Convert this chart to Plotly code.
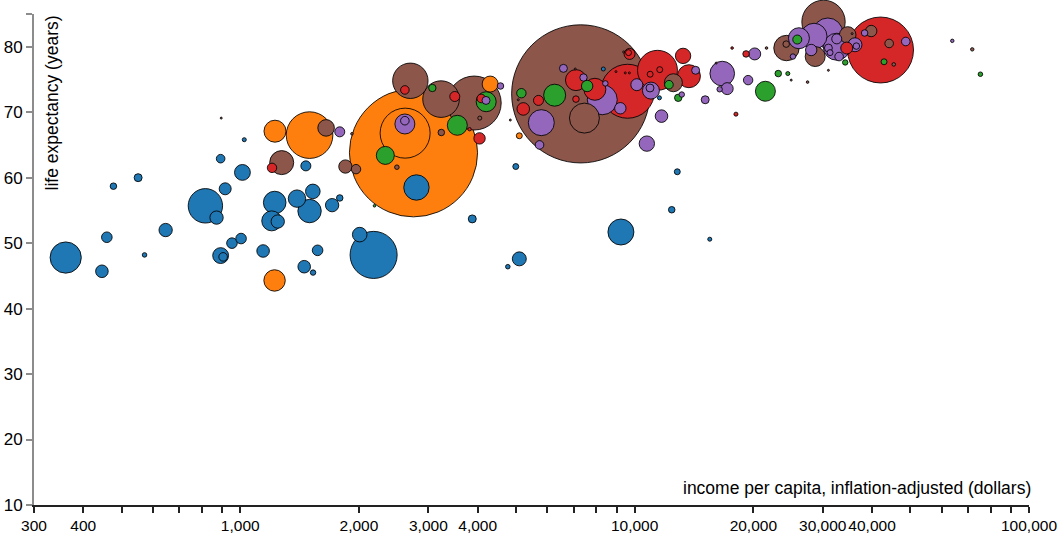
import math
import plotly.graph_objects as go

# ---------------- data (income $, life expectancy years, population millions) ----------------
africa_income = [361, 446, 459, 477, 551, 572, 647, 816, 871, 892, 905, 953, 1005, 916, 892, 1013, 1024,
                 1143, 1223, 1202, 1245, 1393, 1467, 1528, 1499, 1710, 1788, 1571, 1453, 1530, 2009, 2179,
                 2798, 3876, 4997, 5101, 4770, 9232, 12830, 12420, 15510, 8330, 11560]
africa_life = [47.8, 45.7, 50.9, 58.7, 60.0, 48.2, 52.0, 55.7, 53.9, 48.1, 47.9, 50.0, 50.7, 58.3, 62.9, 60.8, 65.8,
               48.8, 56.2, 53.4, 53.3, 56.8, 61.8, 57.9, 54.9, 55.8, 56.9, 48.9, 46.4, 45.5, 51.3, 48.2,
               58.5, 53.7, 61.7, 47.6, 46.4, 51.7, 60.9, 55.1, 50.6, 76.6, 72.2]
africa_pop = [66, 10.7, 7.6, 2.9, 4.3, 1.4, 12, 80, 12, 17, 5, 7.6, 7.6, 9.7, 5, 17, 1.1,
              10.7, 34.5, 27, 12, 20.5, 6.8, 14.4, 37, 12, 2.9, 7.6, 10.7, 2.0, 14.4, 150,
              43.6, 4.3, 2.4, 13.2, 1.4, 45.7, 2.4, 2.9, 1.1, 1.1, 1.1]

south_asia_income = [2750, 2619, 1499, 1225, 1222, 4303, 5101]
south_asia_life = [63.8, 66.8, 66.5, 67.1, 44.3, 74.3, 66.4]
south_asia_pop = [1110, 169, 147, 32.7, 31, 17.3, 2.4]

mena_income = [2333, 3552, 3070, 4204, 5163, 6270, 7580, 12220, 12900, 21460, 23130, 24460, 25850,
               34200, 42900, 75300, 2190]
mena_life = [63.4, 68.0, 73.7, 71.6, 72.9, 72.6, 74.0, 74.2, 72.2, 73.2, 75.9, 75.9, 81.1,
             77.6, 77.7, 75.8, 55.7]
mena_pop = [21.9, 27, 3.7, 27, 6, 32.7, 8.8, 5, 3.7, 27, 2.9, 1.1, 5.5,
            2.0, 2.4, 1.4, 0.46]

america_income = [42030, 9600, 11430, 13270, 13730, 7100, 7930, 7100, 10950, 11580, 9710, 9650, 5220,
                  5705, 3500, 2615, 4085, 4044, 3815, 1204, 18070, 19170, 17670, 34500, 9470, 8970, 9700]
america_life = [79.5, 73.2, 76.4, 78.6, 75.5, 74.9, 73.5, 72.0, 75.8, 76.5, 78.9, 79.1, 70.5,
                71.8, 72.4, 73.4, 72.1, 66.0, 67.4, 61.5, 69.7, 78.9, 79.8, 79.8, 76.0, 76.2, 76.0]
america_pop = [294, 197, 108, 16, 35.8, 29.8, 32.7, 2.9, 2.4, 2.4, 8.2, 2.4, 10.7,
               6.8, 6.8, 5, 5, 8.8, 0.78, 6, 1.1, 2.9, 0.46, 9.7, 0.27, 0.27, 0.27]

europe_income = [2615, 2615, 1788, 4570, 4200, 5800, 5740, 6600, 7420, 8280, 8430, 9200, 10130, 11000,
                 10940, 11700, 10740, 14280, 13170, 15100, 16680, 17170, 16430, 19400, 20160, 25200,
                 26100, 28500, 30900, 32550, 28040, 31000, 32550, 33000, 36200, 36500, 38300, 48700,
                 31300, 63900]
europe_life = [68.2, 68.7, 67.0, 74.0, 71.8, 68.4, 65.0, 76.7, 75.3, 71.9, 74.4, 70.6, 74.2, 73.3,
               73.7, 69.4, 65.2, 76.4, 72.7, 71.9, 75.9, 73.6, 73.5, 74.9, 78.9, 78.5,
               81.3, 81.6, 82.1, 80.0, 79.5, 79.8, 81.2, 78.5, 80.3, 80.1, 82.1, 80.8,
               79.1, 80.9]
europe_pop = [27, 5, 6.8, 2.9, 4.3, 45.7, 5, 4.3, 3.7, 60.8, 2.0, 8.8, 9.7, 19.5,
              4.3, 10.7, 16, 4.3, 2.0, 4.3, 41, 9.7, 2.0, 6, 9.7, 2.0,
              29.8, 45.7, 60.8, 49.3, 8.8, 4.3, 6.8, 5, 13.2, 2.9, 2.9, 5,
              2.4, 0.8]

east_asia_income = [7300, 7460, 2700, 3230, 3920, 3235, 4050, 2496, 1920, 1651, 1274, 1848, 1966, 12540,
                    24270, 24230, 28700, 30130, 34700, 39800, 44200, 45400, 71800, 895, 7070, 9380,
                    5070, 4840, 16100, 21600, 24950, 27450, 31000, 35600]
east_asia_life = [72.8, 69.1, 74.8, 72.0, 71.4, 66.9, 69.1, 61.6, 66.7, 67.6, 62.3, 61.7, 61.3, 74.5,
                  79.8, 80.4, 78.5, 83.8, 81.8, 82.4, 80.5, 77.3, 79.6, 69.1, 76.6, 79.2,
                  71.9, 68.8, 77.5, 79.8, 74.9, 74.6, 76.4, 82.0]
east_asia_pop = [1290, 60.8, 84.7, 90.6, 197, 2.9, 1.1, 1.4, 0.46, 18.6, 39, 12, 6, 21.9,
                 43.6, 2.9, 27, 127, 18.6, 8.8, 5, 0.88, 0.8, 0.27, 0.27, 0.27,
                 0.27, 0.27, 0.27, 0.46, 0.27, 0.46, 0.27, 0.27]

regions = ["Sub-Saharan Africa", "South Asia", "Middle East & North Africa",
           "America", "Europe & Central Asia", "East Asia & Pacific"]

x_tick_values = [300, 400, 500, 600, 700, 800, 900,
                 1000, 2000, 3000, 4000, 5000, 6000, 7000, 8000, 9000,
                 10000, 20000, 30000, 40000, 50000, 60000, 70000, 80000, 90000, 100000]
x_tick_labels = ["300", "400", "", "", "", "", "",
                 "1,000", "2,000", "3,000", "4,000", "", "", "", "", "",
                 "10,000", "20,000", "30,000", "40,000", "", "", "", "", "", "100,000"]
y_tick_values = [10, 20, 30, 40, 50, 60, 70, 80, 85]
y_tick_labels = ["10", "20", "30", "40", "50", "60", "70", "80", ""]

# ---------------- styling ----------------
region_colors = {
    "Sub-Saharan Africa": "#1f77b4",
    "South Asia": "#ff7f0e",
    "Middle East & North Africa": "#2ca02c",
    "America": "#d62728",
    "Europe & Central Asia": "#9467bd",
    "East Asia & Pacific": "#8c564b",
}
series = [
    (africa_income, africa_life, africa_pop),
    (south_asia_income, south_asia_life, south_asia_pop),
    (mena_income, mena_life, mena_pop),
    (america_income, america_life, america_pop),
    (europe_income, europe_life, europe_pop),
    (east_asia_income, east_asia_life, east_asia_pop),
]

rows = []
for name, (inc, life, pop) in zip(regions, series):
    for a, b, c in zip(inc, life, pop):
        rows.append((a, b, c, region_colors[name], name))
# larger nations drawn first, smaller on top
rows.sort(key=lambda r: -r[2])

R_MAX = 43.0          # radius (px) for 500 million people (sqrt scale)
def radius(pop_m):
    return R_MAX * math.sqrt(pop_m * 1e6 / 5e8)

fig = go.Figure(go.Scatter(
    x=[r[0] for r in rows],
    y=[r[1] for r in rows],
    mode="markers",
    text=[r[4] for r in rows],
    marker=dict(
        size=[2 * radius(r[2]) for r in rows],
        sizemode="diameter",
        color=[r[3] for r in rows],
        opacity=1,
        line=dict(color="rgba(0,0,0,0.85)", width=1),
    ),
    hoverinfo="x+y+text",
    showlegend=False,
    cliponaxis=False,
))

FONT = "Liberation Sans, Arial, Helvetica, sans-serif"
fig.update_layout(
    width=1060, height=534,
    margin=dict(l=34, r=31, t=14, b=29, autoexpand=False),
    paper_bgcolor="white", plot_bgcolor="white",
    hovermode=False,
    font=dict(family=FONT, size=17.5, color="#000"),
    xaxis=dict(
        type="log", range=[math.log10(300), 5],
        tickvals=x_tick_values, ticktext=x_tick_labels, tickangle=0,
        ticks="outside", ticklen=6, tickwidth=1.5, tickcolor="#222",
        showline=True, linecolor="#222", linewidth=1.5,
        showgrid=False, zeroline=False, automargin=False,
        ticklabeloverflow="allow",
        tickfont=dict(family=FONT, size=15.5, color="#000"),
    ),
    yaxis=dict(
        range=[10, 85],
        tickvals=y_tick_values, ticktext=y_tick_labels, tickangle=0,
        ticks="outside", ticklen=6, tickwidth=2, tickcolor="#8c8c8c",
        showline=True, linecolor="#8c8c8c", linewidth=2,
        showgrid=False, zeroline=False, automargin=False,
        tickfont=dict(family=FONT, size=17, color="#000"),
    ),
    annotations=[
        dict(text="income per capita, inflation-adjusted (dollars)",
             xref="paper", yref="paper", x=1, y=0, xanchor="right", yanchor="bottom",
             xshift=4, yshift=5, showarrow=False, font=dict(family=FONT, size=17.5, color="#000")),
        dict(text="life expectancy (years)", textangle=-90,
             xref="paper", yref="paper", x=0, y=1, xanchor="left", yanchor="top",
             xshift=5, yshift=0, showarrow=False, font=dict(family=FONT, size=17.5, color="#000")),
    ],
)

# remove the browser's default 8px body margin so the figure fills the 1060x534 window exactly
fig.write_html("out.html", config={"displayModeBar": False},
               post_script="document.body.style.margin='0';document.body.style.overflow='hidden';")
